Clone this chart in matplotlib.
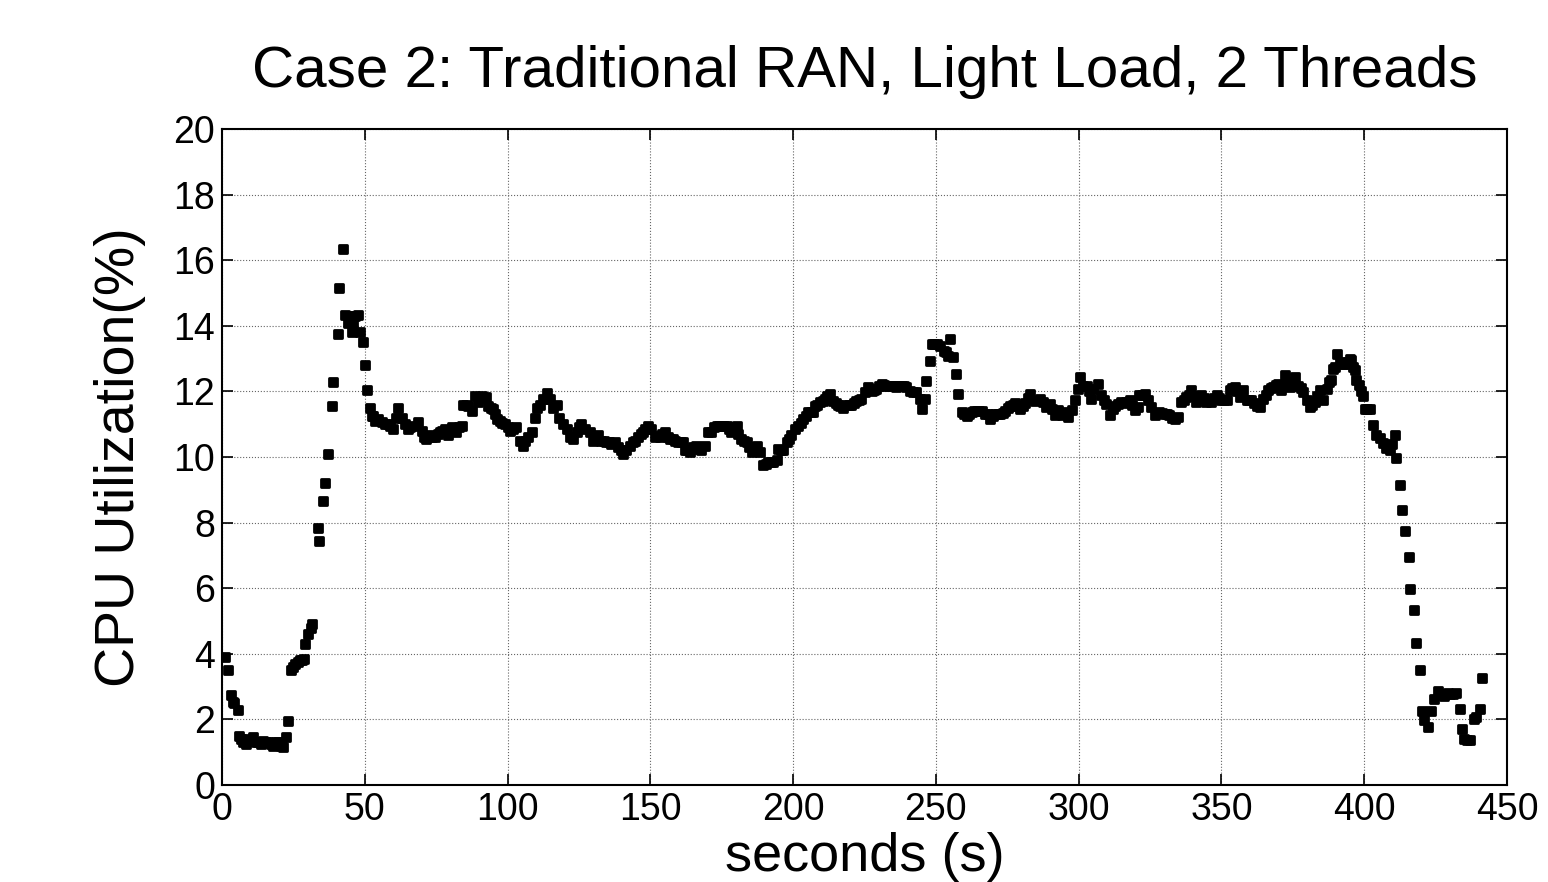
import numpy as np
import matplotlib.pyplot as plt
from matplotlib.markers import MarkerStyle

# sample times (s) and CPU utilization (%)
seconds = [
    1.0, 2.0, 3.2, 3.7, 4.3, 5.5, 6.1, 6.8, 7.5, 8.3, 9.2, 10.0, 10.9, 11.8, 12.7, 13.6,
    14.5, 15.4, 16.2, 17.1, 18.0, 18.9, 19.7, 20.6, 21.5, 22.4, 23.0, 24.2, 25.0, 25.6,
    26.5, 27.3, 28.0, 28.8, 29.0, 30.0, 31.0, 31.4, 33.5, 34.1, 35.5, 36.1, 37.0, 38.4,
    39.0, 40.5, 41.1, 42.5, 43.0, 44.0, 44.8, 45.4, 46.0, 46.6, 47.7, 48.3, 49.5, 50.0,
    50.7, 51.8, 52.4, 52.8, 53.6, 54.8, 55.9, 57.1, 58.0, 58.8, 60.0, 61.0, 61.7, 62.9,
    64.1, 65.2, 66.0, 67.0, 68.7, 69.9, 70.8, 71.6, 72.8, 73.7, 74.6, 75.5, 76.3, 77.2,
    78.1, 79.2, 80.4, 81.2, 82.1, 83.0, 83.9, 84.5, 85.3, 86.2, 87.4, 88.6, 89.7, 90.9,
    91.6, 92.4, 93.2, 94.1, 94.9, 95.6, 96.2, 97.3, 98.2, 99.1, 100.0, 100.8, 101.9, 103.1,
    104.5, 105.4, 106.0, 107.2, 108.4, 109.6, 110.2, 111.3, 112.5, 113.7, 114.8, 116.0,
    117.2, 118.1, 119.5, 120.7, 121.9, 123.0, 124.2, 125.0, 125.9, 127.1, 128.8, 130.0,
    130.8, 131.7, 132.9, 133.8, 134.6, 135.5, 136.4, 137.5, 138.7, 139.6, 140.4, 141.6,
    142.8, 143.9, 144.8, 145.7, 146.6, 147.5, 148.3, 149.2, 150.3, 151.5, 152.4, 153.3,
    154.1, 155.0, 156.2, 157.0, 157.9, 158.8, 159.7, 160.6, 161.4, 162.0, 162.9, 163.8,
    164.9, 166.1, 167.0, 167.9, 169.1, 170.3, 171.4, 172.3, 173.2, 174.1, 175.0, 175.9,
    176.7, 177.6, 178.4, 179.3, 180.2, 180.8, 181.9, 182.8, 183.7, 184.6, 185.5, 186.4,
    187.2, 188.4, 189.5, 190.4, 191.3, 192.2, 193.0, 194.2, 194.8, 195.6, 196.5, 197.7,
    198.5, 199.4, 200.6, 201.8, 202.6, 203.5, 204.4, 205.3, 206.2, 207.0, 207.6, 208.5,
    209.4, 210.3, 211.1, 212.0, 212.9, 214.0, 214.9, 215.8, 216.6, 217.5, 218.7, 219.5,
    220.4, 221.3, 222.2, 223.0, 223.9, 225.1, 226.3, 227.5, 228.3, 229.2, 230.1, 231.0,
    231.8, 232.7, 233.6, 234.5, 235.3, 236.2, 237.1, 238.0, 238.8, 239.7, 240.9, 242.1,
    243.2, 244.4, 245.0, 246.2, 246.5, 247.9, 248.5, 249.4, 250.3, 251.6, 252.8, 253.6,
    254.3, 254.9, 255.9, 257.1, 257.7, 259.1, 260.0, 260.8, 261.7, 262.6, 263.5, 264.4,
    265.2, 266.1, 267.3, 268.2, 269.0, 270.0, 270.8, 271.6, 272.5, 273.4, 274.3, 275.2,
    276.0, 276.9, 277.8, 278.6, 279.5, 280.6, 281.3, 282.2, 283.0, 284.8, 286.4, 287.6,
    288.7, 289.9, 290.8, 291.7, 292.8, 294.0, 295.2, 296.3, 297.5, 298.7, 299.9, 300.4,
    301.6, 302.8, 303.6, 304.5, 305.0, 306.8, 307.9, 308.8, 309.7, 310.9, 312.0, 312.9,
    313.8, 315.0, 315.8, 316.7, 317.9, 318.8, 319.6, 320.8, 321.3, 322.2, 323.1, 324.3,
    325.4, 326.6, 327.5, 328.3, 329.2, 330.1, 331.0, 331.8, 332.7, 333.6, 334.8, 335.9,
    336.8, 337.7, 338.6, 339.4, 340.3, 341.2, 342.0, 342.9, 343.8, 344.7, 345.6, 346.5,
    347.4, 348.3, 349.2, 350.0, 350.9, 351.8, 352.9, 353.8, 354.7, 355.5, 356.4, 357.6,
    358.8, 359.7, 360.5, 361.4, 362.3, 363.4, 364.6, 365.5, 366.4, 367.3, 368.1, 369.0,
    369.9, 371.0, 372.2, 373.1, 374.0, 374.8, 375.7, 376.9, 377.8, 378.6, 379.8, 381.0,
    381.8, 382.7, 383.6, 384.5, 385.6, 386.8, 387.7, 388.5, 389.0, 389.7, 390.3, 391.5,
    392.6, 393.2, 394.4, 395.0, 395.5, 396.1, 396.7, 397.3, 398.2, 399.0, 399.6, 400.2,
    401.0, 401.9, 403.1, 404.3, 405.4, 406.6, 407.8, 408.9, 409.8, 410.7, 411.3, 412.4,
    413.4, 414.2, 415.6, 416.2, 417.6, 418.2, 419.6, 420.3, 421.1, 422.3, 423.4, 424.6,
    425.8, 427.0, 428.1, 429.3, 430.2, 431.0, 432.2, 433.7, 434.3, 435.1, 436.0, 436.9,
    438.3, 439.2, 440.6, 441.3,
]
cpu = [
    3.9, 3.5, 2.73, 2.54, 2.5, 2.3, 1.5, 1.4, 1.3, 1.25, 1.4, 1.35, 1.45, 1.3, 1.3, 1.25,
    1.35, 1.3, 1.3, 1.25, 1.2, 1.3, 1.3, 1.2, 1.17, 1.46, 1.95, 3.5, 3.6, 3.7,
    3.75, 3.8, 3.8, 3.85, 4.3, 4.6, 4.8, 4.9, 7.85, 7.45, 8.66, 9.2, 10.1, 11.56,
    12.3, 13.74, 15.15, 16.34, 14.34, 14.1, 14.3, 13.8, 14.1, 14.3, 14.34, 13.8, 13.5, 12.8,
    12.04, 11.5, 11.25, 11.26, 11.1, 11.15, 11.06, 11.0, 11.0, 10.96, 10.86, 11.2, 11.5, 11.2,
    11.0, 10.86, 10.9, 10.96, 11.06, 10.8, 10.6, 10.55, 10.66, 10.6, 10.6, 10.7, 10.76, 10.8,
    10.86, 10.66, 10.9, 10.85, 10.76, 10.9, 10.96, 11.6, 11.6, 11.57, 11.4, 11.87, 11.67, 11.87,
    11.8, 11.82, 11.57, 11.5, 11.46, 11.3, 11.16, 11.1, 11.05, 11.0, 10.9, 10.8, 10.86, 10.9,
    10.5, 10.35, 10.5, 10.6, 10.76, 11.2, 11.5, 11.6, 11.77, 11.94, 11.77, 11.5,
    11.6, 11.2, 11.0, 10.86, 10.6, 10.55, 10.76, 10.9, 11.0, 10.86, 10.76, 10.5,
    10.6, 10.66, 10.5, 10.5, 10.45, 10.45, 10.4, 10.45, 10.3, 10.2, 10.1, 10.2,
    10.35, 10.45, 10.5, 10.6, 10.7, 10.76, 10.85, 10.96, 10.86, 10.6, 10.65, 10.6,
    10.7, 10.76, 10.6, 10.55, 10.55, 10.5, 10.45, 10.45, 10.45, 10.2, 10.2, 10.15,
    10.3, 10.35, 10.25, 10.2, 10.35, 10.76, 10.76, 10.9, 10.96, 10.95, 10.96, 10.95,
    10.96, 10.85, 10.76, 10.9, 10.96, 10.7, 10.55, 10.5, 10.45, 10.3, 10.15, 10.25,
    10.35, 10.15, 9.75, 9.8, 9.85, 9.85, 9.85, 9.9, 10.25, 10.2, 10.2, 10.45,
    10.55, 10.66, 10.86, 10.96, 11.05, 11.16, 11.25, 11.36, 11.36, 11.36, 11.57, 11.6,
    11.67, 11.7, 11.77, 11.85, 11.92, 11.72, 11.65, 11.6, 11.55, 11.5, 11.6, 11.6,
    11.6, 11.65, 11.72, 11.75, 11.77, 11.97, 12.12, 12.0, 12.05, 12.07, 12.15, 12.22,
    12.2, 12.17, 12.15, 12.17, 12.15, 12.12, 12.15, 12.17, 12.15, 12.12, 12.0, 11.97,
    11.97, 11.77, 11.46, 11.77, 12.32, 12.93, 13.44, 13.44, 13.44, 13.39, 13.24, 13.2,
    13.09, 13.6, 13.06, 12.53, 11.92, 11.36, 11.3, 11.26, 11.3, 11.36, 11.4, 11.41,
    11.4, 11.41, 11.31, 11.3, 11.16, 11.25, 11.31, 11.3, 11.31, 11.35, 11.41, 11.5,
    11.56, 11.6, 11.66, 11.55, 11.46, 11.56, 11.66, 11.8, 11.92, 11.72, 11.77, 11.68,
    11.52, 11.62, 11.45, 11.27, 11.42, 11.27, 11.37, 11.22, 11.42, 11.73, 12.08, 12.44,
    12.18, 12.18, 12.0, 11.78, 12.08, 12.23, 11.88, 11.75, 11.62, 11.27, 11.47, 11.55,
    11.62, 11.68, 11.65, 11.68, 11.73, 11.6, 11.42, 11.52, 11.88, 11.9, 11.93, 11.73,
    11.52, 11.27, 11.35, 11.37, 11.35, 11.32, 11.3, 11.27, 11.2, 11.17, 11.22, 11.68,
    11.75, 11.83, 11.9, 12.03, 11.85, 11.68, 11.8, 11.88, 11.8, 11.68, 11.7, 11.68,
    11.8, 11.88, 11.8, 11.73, 11.75, 11.73, 12.03, 12.1, 12.13, 12.0, 11.83, 12.03,
    11.73, 11.75, 11.73, 11.65, 11.57, 11.52, 11.78, 11.9, 12.03, 12.1, 12.13, 12.2,
    12.23, 12.03, 12.49, 12.3, 12.13, 12.3, 12.44, 12.18, 12.1, 11.98, 11.73, 11.52,
    11.6, 11.68, 11.85, 12.03, 11.73, 12.08, 12.28, 12.34, 12.69, 12.74, 13.15, 12.9,
    12.85, 12.84, 12.9, 13.0, 12.95, 12.74, 12.65, 12.36, 12.2, 12.0, 11.85, 11.45,
    11.45, 11.45, 10.97, 10.67, 10.57, 10.42, 10.26, 10.21, 10.4, 10.67, 9.96, 9.15,
    8.39, 7.73, 6.94, 5.97, 5.34, 4.33, 3.5, 2.27, 1.98, 1.77, 2.27, 2.63,
    2.86, 2.76, 2.71, 2.81, 2.78, 2.76, 2.81, 2.32, 1.72, 1.39, 1.38, 1.37,
    2.02, 2.08, 2.32, 3.25,
]

plt.rcParams['font.family'] = ['Liberation Sans', 'DejaVu Sans']

fig = plt.figure(figsize=(15.48, 8.82), dpi=100)
ax = fig.add_axes([0.1434, 0.110, 0.8301, 0.7437])

# rounded square dots, like the original MATLAB export
dot = MarkerStyle('s', joinstyle='round')
ax.plot(seconds, cpu, linestyle='none', marker=dot, markersize=6.3,
        color='black', markeredgewidth=2.0)

ax.set_xlim(0, 450)
ax.set_ylim(0, 20)
ax.set_xticks(np.arange(0, 451, 50))
ax.set_yticks(np.arange(0, 21, 2))
ax.grid(True, linestyle=':', color='#666666', linewidth=0.8)
ax.tick_params(direction='in', length=8, width=1.2, labelsize=27,
               top=True, right=True, pad=5)
for s in ax.spines.values():
    s.set_linewidth(1.5)

ax.set_title('Case 2: Traditional RAN, Light Load, 2 Threads', fontsize=42, pad=30)
ax.set_xlabel('seconds (s)', fontsize=39, labelpad=3)
ax.set_ylabel('CPU Utilization(%)', fontsize=40, labelpad=20)

fig.savefig('out.png', dpi=100)
